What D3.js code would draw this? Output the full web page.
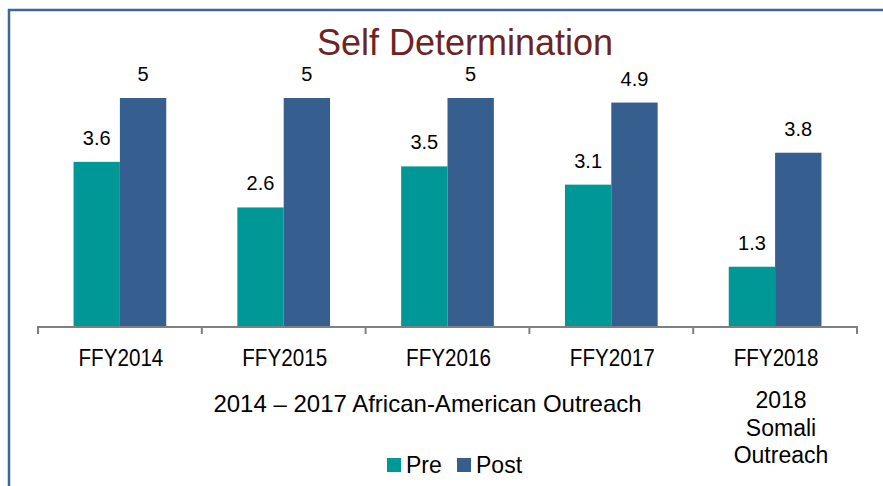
<!DOCTYPE html>
<html>
<head>
<meta charset="utf-8">
<script src="https://cdn.jsdelivr.net/npm/d3@7"></script>
<style>
  body { margin: 0; background: #fff; }
  svg { display: block; font-family: Arial, 'Liberation Sans', sans-serif; }
</style>
</head>
<body>
<svg id="chart" width="883" height="486"></svg>
<script>
// Données du graphique
const categories = ['FFY2014', 'FFY2015', 'FFY2016', 'FFY2017', 'FFY2018'];
const seriesNames = ['Pre', 'Post'];
const preValues = [3.6, 2.6, 3.5, 3.1, 1.3];
const postValues = [5, 5, 5, 4.9, 3.8];
const groupLabels = ['2014 – 2017 African-American Outreach', ['2018', 'Somali', 'Outreach']];

const colors = { Pre: '#009896', Post: '#365F8F' };

const svg = d3.select('#chart');
const width = 883;
const height = 486;

// Cadre bleu (haut et gauche)
svg.append('path')
  .attr('d', `M9,${height} V10 H${width}`)
  .attr('fill', 'none')
  .attr('stroke', '#3F6698')
  .attr('stroke-width', 2.5);

// Échelles
const x0 = d3.scaleBand().domain(categories).range([38, 857]).padding(0);
const bw = x0.bandwidth();
const x1 = d3.scaleBand().domain(seriesNames).range([bw * 0.217, bw * 0.783]).padding(0);
const y = d3.scaleLinear().domain([0, 6]).range([326, 52.4]);

const rows = categories.map((c, i) => ({ category: c, Pre: preValues[i], Post: postValues[i] }));

// Barres
const groups = svg.append('g')
  .selectAll('g')
  .data(rows)
  .enter()
  .append('g')
  .attr('transform', d => `translate(${x0(d.category)},0)`);

groups.selectAll('rect')
  .data(d => seriesNames.map(s => ({ key: s, value: d[s] })))
  .enter()
  .append('rect')
  .attr('x', d => x1(d.key))
  .attr('y', d => y(d.value))
  .attr('width', x1.bandwidth())
  .attr('height', d => y(0) - y(d.value))
  .attr('fill', d => colors[d.key]);

// Étiquettes de valeurs
groups.selectAll('text')
  .data(d => seriesNames.map(s => ({ key: s, value: d[s] })))
  .enter()
  .append('text')
  .attr('x', d => x1(d.key) + x1.bandwidth() / 2)
  .attr('y', d => y(d.value) - 17)
  .attr('text-anchor', 'middle')
  .style('font-size', '20px')
  .attr('fill', '#000')
  .text(d => d.value);

// Axe des X avec graduations entre les catégories
svg.append('line')
  .attr('x1', x0.range()[0]).attr('x2', x0.range()[1])
  .attr('y1', 327).attr('y2', 327)
  .attr('stroke', '#808080').attr('stroke-width', 2);

const boundaries = categories.map(c => x0(c)).concat([x0.range()[1]]);
svg.append('g')
  .selectAll('line')
  .data(boundaries)
  .enter()
  .append('line')
  .attr('x1', d => d).attr('x2', d => d)
  .attr('y1', 326).attr('y2', 334)
  .attr('stroke', '#808080').attr('stroke-width', 2);

// Libellés des catégories (police un peu condensée)
svg.append('g')
  .selectAll('text')
  .data(categories)
  .enter()
  .append('text')
  .attr('transform', d => `translate(${x0(d) + bw / 2 + 1},366) scale(0.86,1)`)
  .attr('text-anchor', 'middle')
  .style('font-size', '24px')
  .attr('fill', '#000')
  .text(d => d);

// Libellés de groupes
svg.append('text')
  .attr('x', 427.5)
  .attr('y', 412)
  .attr('text-anchor', 'middle')
  .style('font-size', '24px')
  .text(groupLabels[0]);

svg.append('text')
  .attr('x', 781)
  .attr('y', 408)
  .attr('text-anchor', 'middle')
  .style('font-size', '23px')
  .selectAll('tspan')
  .data(groupLabels[1])
  .enter()
  .append('tspan')
  .attr('x', 781)
  .attr('dy', (d, i) => i === 0 ? 0 : 27.5)
  .text(d => d);

// Titre
svg.append('text')
  .attr('x', 465)
  .attr('y', 55)
  .attr('text-anchor', 'middle')
  .style('font-size', '36px')
  .attr('fill', '#6C2524')
  .text('Self Determination');

// Légende
const legend = svg.append('g')
  .selectAll('g')
  .data(seriesNames)
  .enter()
  .append('g')
  .attr('transform', (d, i) => `translate(${387 + i * 70},0)`);

legend.append('rect')
  .attr('x', 0).attr('y', 458)
  .attr('width', 14).attr('height', 14)
  .attr('fill', d => colors[d]);

legend.append('text')
  .attr('x', 19)
  .attr('y', 473)
  .style('font-size', '23px')
  .text(d => d);
</script>
</body>
</html>
